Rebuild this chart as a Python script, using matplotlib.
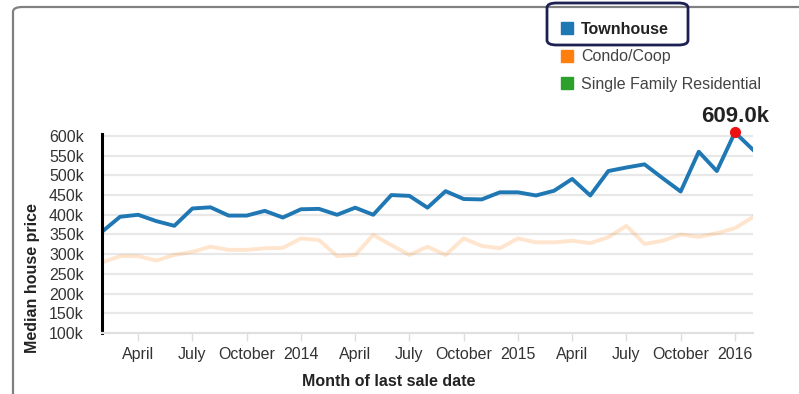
import numpy as np
import matplotlib.pyplot as plt
from matplotlib.patches import FancyBboxPatch, Rectangle

plt.rcParams['font.family'] = ['Liberation Sans', 'DejaVu Sans']

# monthly medians, Feb 2013 .. Feb 2016 (thousands of dollars)
months = np.arange(37)
townhouse = [357, 395, 400, 384, 372, 416, 419, 398, 398, 410, 393, 414,
             415, 400, 418, 400, 450, 448, 418, 460, 440, 439, 457, 457,
             449, 461, 491, 449, 511, 520, 528, 493, 459, 560, 511, 609, 565]
condo = [279, 295, 295, 284, 298, 306, 319, 311, 311, 315, 316, 340,
         336, 295, 298, 349, 323, 298, 319, 298, 340, 321, 315, 340,
         330, 330, 334, 328, 343, 372, 326, 334, 350, 344, 353, 366, 394]

tick_pos = [2, 5, 8, 11, 14, 17, 20, 23, 26, 29, 32, 35]
tick_labels = ['April', 'July', 'October', '2014', 'April', 'July', 'October',
               '2015', 'April', 'July', 'October', '2016']
y_ticks = np.arange(100, 601, 50)

legend_names = ['Townhouse', 'Condo/Coop', 'Single Family Residential']
legend_colors = ['#1f77b4', '#ff7f0e', '#2ca02c']

W, H = 799, 394
fig = plt.figure(figsize=(W / 100, H / 100), dpi=100)


def fx(x):
    return x / W


def fy(y):
    return 1 - y / H


ax = fig.add_axes([fx(102), fy(333), fx(753) - fx(102), fy(134) - fy(333)])

for y in y_ticks[1:]:
    ax.axhline(y, color='#e8e8e8', lw=1.6, zorder=0)

ax.plot(months, condo, color='#ff7f0e', alpha=0.2, lw=2.8, solid_joinstyle='round')
ax.plot(months, townhouse, color='#1f77b4', lw=2.8, solid_joinstyle='round')

peak = int(np.argmax(townhouse))
ax.plot(months[peak], townhouse[peak], 'o', color='#ee1111', ms=7, clip_on=False, zorder=5)
ax.annotate(f'{townhouse[peak]:.1f}k', (months[peak], townhouse[peak]),
            xytext=(0, 4), textcoords='offset points', ha='center', va='bottom',
            fontsize=16, fontweight='bold', color='#222222', annotation_clip=False)

ax.set_xlim(0, 36)
ax.set_ylim(100, 605)
ax.set_yticks(y_ticks)
ax.set_yticklabels([f'{v}k' for v in y_ticks])
ax.set_xticks(tick_pos)
ax.set_xticklabels(tick_labels)
ax.tick_params(axis='y', length=0, pad=13, labelsize=11.5, labelcolor='#333333')
ax.tick_params(axis='x', length=6, width=1, color='#dddddd', pad=4,
               labelsize=11.5, labelcolor='#333333')

for s in ['top', 'right']:
    ax.spines[s].set_visible(False)
ax.spines['left'].set_color('black')
ax.spines['left'].set_linewidth(2.2)
ax.spines['bottom'].set_color('#e0e0e0')
ax.spines['bottom'].set_linewidth(1.6)

ax.set_xlabel('Month of last sale date', fontsize=11.5, fontweight='bold', color='#222222')
ax.set_ylabel('Median house price', fontsize=11.5, fontweight='bold', color='#222222')
ax.xaxis.set_label_coords((fx(389) - fx(102)) / (fx(753) - fx(102)),
                          (fy(382) - fy(333)) / (fy(134) - fy(333)))
ax.xaxis.label.set_va('center')
ax.yaxis.set_label_coords((fx(33) - fx(102)) / (fx(753) - fx(102)),
                          (fy(278) - fy(333)) / (fy(134) - fy(333)))
ax.yaxis.label.set_va('center')

# outer card border, open at right and bottom
fig.patches.append(FancyBboxPatch((fx(13), fy(398)), fx(830) - fx(13), fy(7) - fy(398),
                                  boxstyle='round,pad=0,rounding_size=0.012',
                                  transform=fig.transFigure, fill=False,
                                  edgecolor='#808080', lw=1.6))

# legend
for i, (name, col) in enumerate(zip(legend_names, legend_colors)):
    yc = 28 + i * 27.5
    fig.patches.append(Rectangle((fx(561), fy(yc + 6)), fx(12), fy(0) - fy(12),
                                 transform=fig.transFigure, color=col))
    fig.text(fx(581), fy(yc + 1), name, fontsize=11.5, va='center', ha='left',
             color='#222222' if i == 0 else '#444444',
             fontweight='bold' if i == 0 else 'normal')

fig.patches.append(FancyBboxPatch((fx(547), fy(45)), fx(688) - fx(547), fy(3) - fy(45),
                                  boxstyle='round,pad=0,rounding_size=0.012',
                                  transform=fig.transFigure, fill=False,
                                  edgecolor='#1c2152', lw=2))

fig.savefig('out.png', dpi=100)
